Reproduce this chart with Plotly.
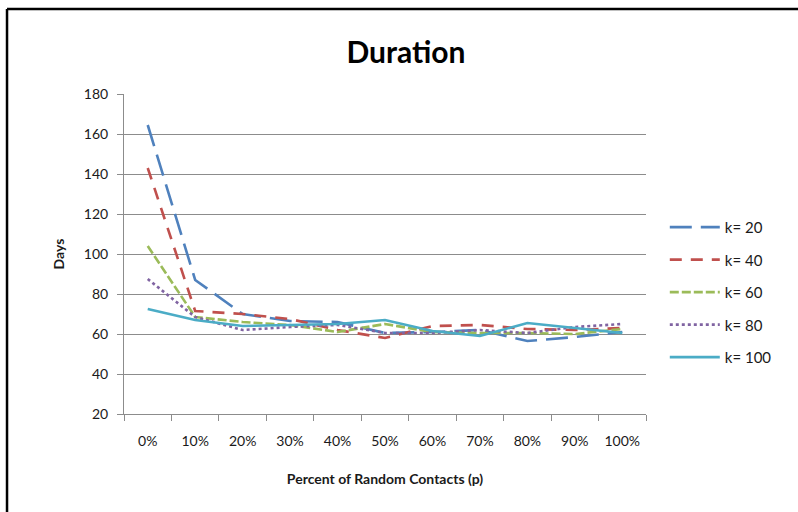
import plotly.graph_objects as go

# Simulation results: outbreak duration (days) vs. share of random contacts
categories = ["0%", "10%", "20%", "30%", "40%", "50%", "60%", "70%", "80%", "90%", "100%"]
k20 = [164.5, 87, 70, 66.5, 66, 60.5, 61, 62, 56.5, 58.5, 61]
k40 = [143, 71.5, 70, 67.5, 62, 58, 64, 64.5, 62.5, 62, 63]
k60 = [104, 68.5, 66, 64.5, 61, 65, 61, 60.5, 60.5, 60, 62.5]
k80 = [87.5, 68.5, 62, 63.5, 64.5, 60.5, 60.5, 62, 60.5, 63.5, 65]
k100 = [72.5, 67, 64, 64.5, 65, 67, 61.5, 59, 65.5, 63, 60.5]

series_names = ["k= 20", "k= 40", "k= 60", "k= 80", "k= 100"]
series_values = [k20, k40, k60, k80, k100]
colors = ["#4F81BD", "#C0504D", "#9BBB59", "#8064A2", "#4BACC6"]
dashes = ["22px,9px", "12px,9px", "9px,3px", "3px,3px", "solid"]

FONT = "Lato"
GRID = "#8c8c8c"

fig = go.Figure()
for i, (name, vals) in enumerate(zip(series_names, series_values)):
    fig.add_trace(go.Scatter(
        x=categories, y=vals, name=name, mode="lines",
        line=dict(color=colors[i], width=2.6, dash=dashes[i]),
        legendgroup=name,
    ))

fig.update_layout(
    width=798, height=512,
    margin=dict(l=124, r=152, t=94, b=98),
    paper_bgcolor="white", plot_bgcolor="white",
    font=dict(family=FONT, size=14, color="#1a1a1a"),
    title=dict(text="<b>Duration</b>", font=dict(family=FONT, size=30, color="#000"),
               x=0.54, xref="paper", xanchor="center", y=0.898, yanchor="middle"),
    showlegend=True,
    legend=dict(x=1.036, xanchor="left", y=0.38, yanchor="middle",
                font=dict(family=FONT, size=15, color="#1a1a1a"),
                tracegroupgap=10, itemwidth=50, bgcolor="rgba(0,0,0,0)"),
    xaxis=dict(type="category", range=[-0.5, len(categories) - 0.5],
               showgrid=False, showline=True, linecolor=GRID, linewidth=1,
               ticks="outside", tickson="boundaries", ticklen=6, tickcolor=GRID,
               tickfont=dict(size=14), ticklabelstandoff=14,
               title=dict(text="<b>Percent of Random Contacts (p)</b>",
                          font=dict(size=14), standoff=26)),
    yaxis=dict(range=[20, 180], dtick=20, showgrid=True, gridcolor=GRID, gridwidth=1,
               zeroline=False, showline=True, linecolor=GRID, linewidth=1,
               ticks="outside", ticklen=6, tickcolor=GRID, tickfont=dict(size=14),
               ticklabelstandoff=6,
               title=dict(text="<b>Days</b>", font=dict(size=14), standoff=15)),
)

# Outer frame of the chart (top and left edges)
fig.add_shape(type="line", xref="paper", yref="paper", x0=-0.2241, x1=1.3, y0=1.2656, y1=1.2656,
              line=dict(color="black", width=2.5))
fig.add_shape(type="line", xref="paper", yref="paper", x0=-0.2241, x1=-0.2241, y0=1.2656, y1=-0.33,
              line=dict(color="black", width=2.5))

fig.write_html("out.html")
